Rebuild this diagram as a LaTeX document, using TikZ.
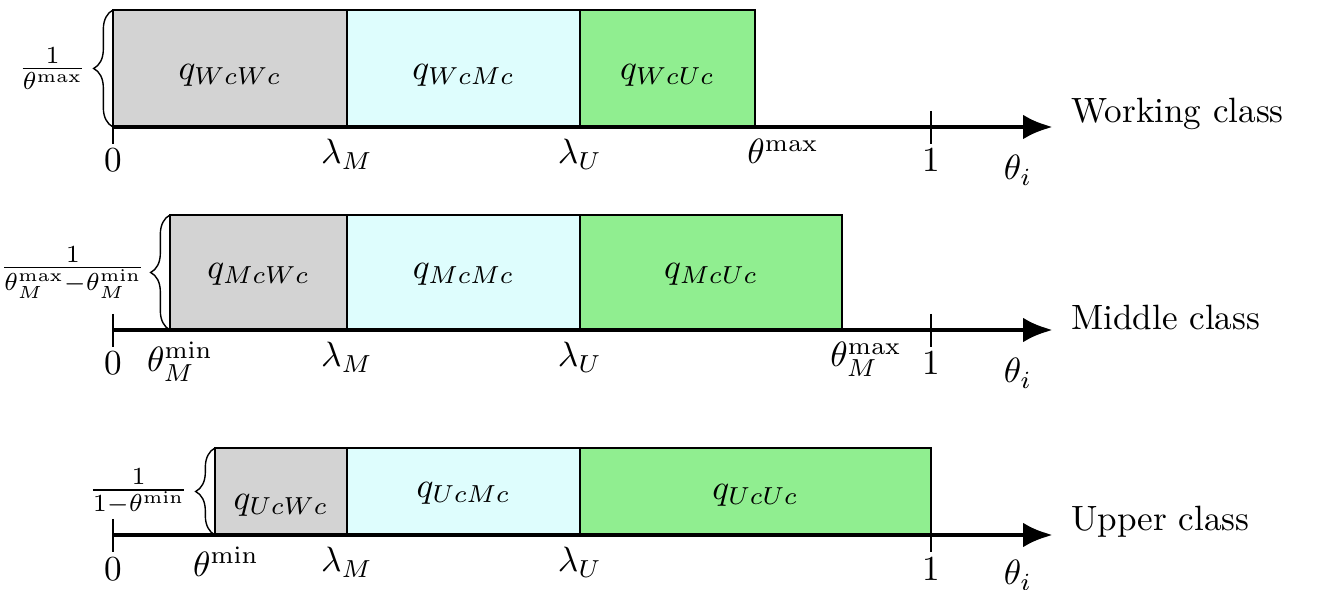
\documentclass[tikz,border=0pt]{standalone}
\usepackage{amsmath}
\usetikzlibrary{arrows.meta,calc,decorations.pathreplacing}
\definecolor{lowgray}{RGB}{211,211,211}
\definecolor{midcyan}{RGB}{222,253,253}
\definecolor{upgreen}{RGB}{144,238,144}
\tikzset{axis/.style={-{Latex[length=8.5pt,width=7pt]},line width=1.4pt}}
\tikzset{cellW/.style={draw,line width=0.6pt,fill=lowgray}}
\tikzset{cellM/.style={draw,line width=0.6pt,fill=midcyan}}
\tikzset{cellU/.style={draw,line width=0.6pt,fill=upgreen}}
\tikzset{tick/.style={line width=0.5pt}}
\tikzset{densbrace/.style={decorate,decoration={brace,amplitude=5.5pt}}}
\tikzset{classlabel/.style={anchor=base west,xshift=0.06cm}}

\begin{document}
\begin{tikzpicture}
    \useasboundingbox (-1.13,1.27) rectangle (12.07,-4.63);
    % working class
    \begin{scope}
        \coordinate (W0) at (0,0);
        \coordinate (W1) at (8.18,0);
        \coordinate (Wend) at (9.40,0);
        \filldraw [cellW] (0,0) rectangle (2.34,1.17);
        \filldraw [cellM] (2.34,0) rectangle (4.67,1.17);
        \filldraw [cellU] (4.67,0) rectangle (6.42,1.17);
        \node (qWW) at (1.17,0.52) {$q_{WcWc}$};
        \node (qWM) at (3.505,0.52) {$q_{WcMc}$};
        \node (qWU) at (5.545,0.52) {$q_{WcUc}$};
        \draw [densbrace] (0,0) -- (0,1.17) node [midway,left=0.14cm] (Wdens) {$\frac{1}{\theta^{\max}}$};
        \draw [axis] (W0) -- (Wend);
        \draw [tick] (W0) ++(0,0.16) -- ++(0,-0.33);
        \draw [tick] (W1) ++(0,0.16) -- ++(0,-0.33);
        \node [below] (Wzero) at (0,-0.09) {$0$};
        \node [below] (WlamM) at (2.34,0) {$\lambda_M$};
        \node [below] (WlamU) at (4.67,0) {$\lambda_U$};
        \node [below,xshift=0.28cm] (Wmax) at (6.42,0) {$\theta^{\max}$};
        \node [below] (Wone) at (8.18,-0.09) {$1$};
        \node [below] (Wth) at (9.05,-0.16) {$\theta_i$};
        \node [classlabel,yshift=0.04cm] (Wname) at (Wend) {Working class};
    \end{scope}
    % middle class
    \begin{scope}[yshift=-2.03cm]
        \coordinate (M0) at (0,0);
        \coordinate (M1) at (8.18,0);
        \coordinate (Mend) at (9.40,0);
        \filldraw [cellW] (0.57,0) rectangle (2.34,1.15);
        \filldraw [cellM] (2.34,0) rectangle (4.67,1.15);
        \filldraw [cellU] (4.67,0) rectangle (7.29,1.15);
        \node (qMW) at (1.455,0.56) {$q_{McWc}$};
        \node (qMM) at (3.505,0.56) {$q_{McMc}$};
        \node (qMU) at (5.98,0.56) {$q_{McUc}$};
        \draw [densbrace] (0.57,0) -- (0.57,1.15) node [midway,left=0.12cm] (Mdens) {$\frac{1}{\theta_M^{\max}-\theta_M^{\min}}$};
        \draw [axis] (M0) -- (Mend);
        \draw [tick] (M0) ++(0,0.16) -- ++(0,-0.33);
        \draw [tick] (M1) ++(0,0.16) -- ++(0,-0.33);
        \node [below] (Mzero) at (0,-0.09) {$0$};
        \node [below,xshift=0.10cm] (Mmin) at (0.57,0) {$\theta_M^{\min}$};
        \node [below] (MlamM) at (2.34,0) {$\lambda_M$};
        \node [below] (MlamU) at (4.67,0) {$\lambda_U$};
        \node [below,xshift=0.24cm] (Mmax) at (7.29,0) {$\theta_M^{\max}$};
        \node [below] (Mone) at (8.18,-0.09) {$1$};
        \node [below] (Mth) at (9.05,-0.16) {$\theta_i$};
        \node [classlabel] (Mname) at (Mend) {Middle class};
    \end{scope}
    % upper class
    \begin{scope}[yshift=-4.08cm]
        \coordinate (U0) at (0,0);
        \coordinate (U1) at (8.18,0);
        \coordinate (Uend) at (9.40,0);
        \filldraw [cellW] (1.02,0) rectangle (2.34,0.87);
        \filldraw [cellM] (2.34,0) rectangle (4.67,0.87);
        \filldraw [cellU] (4.67,0) rectangle (8.18,0.87);
        \node (qUW) at (1.68,0.30) {$q_{UcWc}$};
        \node (qUM) at (3.505,0.42) {$q_{UcMc}$};
        \node (qUU) at (6.425,0.40) {$q_{UcUc}$};
        \draw [densbrace] (1.02,0) -- (1.02,0.87) node [midway,left=0.14cm] (Udens) {$\frac{1}{1-\theta^{\min}}$};
        \draw [axis] (U0) -- (Uend);
        \draw [tick] (U0) ++(0,0.16) -- ++(0,-0.33);
        \draw [tick] (U1) ++(0,0.16) -- ++(0,-0.33);
        \node [below] (Uzero) at (0,-0.10) {$0$};
        \node [below,xshift=0.11cm] (Umin) at (1.02,0) {$\theta^{\min}$};
        \node [below] (UlamM) at (2.34,0) {$\lambda_M$};
        \node [below] (UlamU) at (4.67,0) {$\lambda_U$};
        \node [below] (Uone) at (8.18,-0.10) {$1$};
        \node [below] (Uth) at (9.05,-0.13) {$\theta_i$};
        \node [classlabel,yshift=0.04cm] (Uname) at (Uend) {Upper class};
    \end{scope}
\end{tikzpicture}
\end{document}
